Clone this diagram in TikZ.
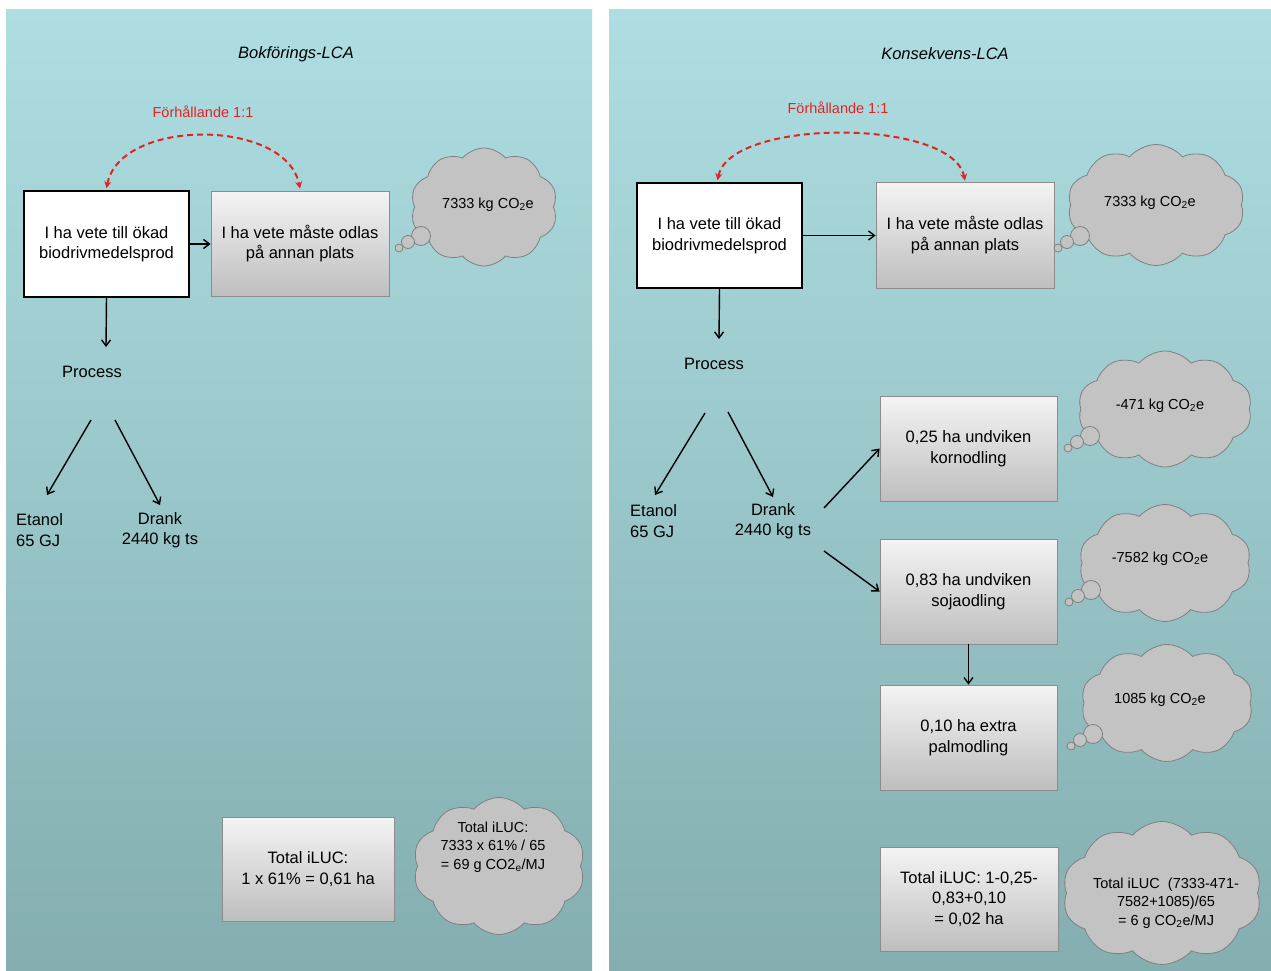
\documentclass[tikz,border=0pt]{standalone}
\usepackage{fontspec}
\setmainfont{Liberation Sans}
\usetikzlibrary{shapes.symbols,arrows.meta,calc}
\definecolor{panelTop}{RGB}{174,222,226}
\definecolor{panelBot}{RGB}{132,174,176}
\definecolor{boxTop}{RGB}{244,244,244}
\definecolor{boxBot}{RGB}{190,190,190}
\definecolor{boxLine}{RGB}{140,140,140}
\definecolor{cloudFill}{RGB}{195,195,195}
\definecolor{cloudLine}{RGB}{128,128,128}
\definecolor{relRed}{RGB}{225,35,35}
\newcommand{\myboxfont}{\fontsize{16.5}{20.5}\selectfont}
\newcommand{\mycloudfont}{\fontsize{14.5}{18.5}\selectfont}
\newcommand{\mytitlefont}{\fontsize{16.5}{19}\selectfont\itshape}
\newcommand{\mytail}[2]{%
  \draw[tailc] (#1,#2) circle[radius=9.5pt];
  \draw[tailc] (#1-13,#2+6) circle[radius=6.5pt];
  \draw[tailc] (#1-22,#2+12) circle[radius=4pt];}
\begin{document}
\begin{tikzpicture}[x=1pt,y=-1pt,
  whitebox/.style={draw=black, line width=1.5pt, fill=white, minimum width=165pt, minimum height=106pt, align=center, font=\myboxfont, inner sep=0pt},
  graybox/.style={draw=boxLine, line width=0.8pt, top color=boxTop, bottom color=boxBot, minimum width=178pt, minimum height=105pt, align=center, font=\myboxfont, inner sep=0pt},
  cloudbox/.style={cloud, cloud puffs=10, cloud puff arc=100, cloud ignores aspect, draw=cloudLine, line width=0.8pt, fill=cloudFill, inner sep=0pt},
  cloudtext/.style={align=center, font=\mycloudfont, inner sep=0pt},
  tailc/.style={draw=cloudLine, line width=0.8pt, fill=cloudFill},
  lbl/.style={font=\myboxfont, align=center, inner sep=0pt},
  arr/.style={-{Straight Barb[length=6pt,width=9pt]}, line width=1.4pt, black},
  rel/.style={{Stealth[length=7pt,width=7pt]}-{Stealth[length=7pt,width=7pt]}, dash pattern=on 6pt off 4pt, draw=relRed, line width=2pt},
  redtext/.style={text=relRed, font=\fontsize{14.5}{17}\selectfont, inner sep=0pt},
  titletext/.style={font=\mytitlefont, inner sep=0pt}]
\useasboundingbox (0,0) rectangle (1271,971);
\fill[white] (0,0) rectangle (1271,971);
% panels
\shade[top color=panelTop, bottom color=panelBot] (6,10) rectangle (592,971);
\shade[top color=panelTop, bottom color=panelBot] (609,10) rectangle (1271,971);

% ================= LEFT PANEL =================
\node[titletext] (titleL) at (296,54) {Bokförings-LCA};
\node[redtext] (relL) at (203,112) {Förhållande 1:1};
\node[whitebox] (boxA) at (106.5,244) {I ha vete till ökad\\biodrivmedelsprod};
\node[graybox] (boxB) at (300,243.5) {I ha vete måste odlas\\på annan plats};
\draw[arr] (boxA.east) -- (boxA.east -| boxB.west);
\draw[rel] ($(boxA.north)+(0,-2)$) .. controls (120,118) and (286,118) .. ($(boxB.north)+(0,-2)$);
\node[cloudbox, minimum width=147pt, minimum height=118pt] (cL1) at (484,207) {};
\mytail{421}{236}
\node[cloudtext] (tL1) at (488,205) {7333 kg CO\textsubscript{2}e};

\node[lbl] (procL) at (92,372) {Process};
\coordinate (pL0) at (106,347);
\draw[arr] (boxA.south) -- (pL0);
\node[lbl, align=left, anchor=west] (etL) at (16,530) {Etanol\\65 GJ};
\node[lbl] (drL) at (160,530) {Drank\\2440 kg ts};
\coordinate (pL1s) at (91,420);
\coordinate (pL1e) at (47,495);
\coordinate (pL2s) at (115,420);
\coordinate (pL2e) at (160,505);
\draw[arr] (pL1s) -- (pL1e);
\draw[arr] (pL2s) -- (pL2e);

\node[graybox, minimum width=172pt, minimum height=104pt] (totL) at (308,869) {Total iLUC:\\1 x 61\% = 0,61 ha};
\node[cloudbox, minimum width=172pt, minimum height=137pt] (cL2) at (499,866) {};
\node[cloudtext] (tL2) at (493,847) {Total iLUC:\\7333 x 61\% / 65\\= 69 g CO2\textsubscript{e}/MJ};

% ================= RIGHT PANEL =================
\node[titletext] (titleR) at (945,54) {Konsekvens-LCA};
\node[redtext] (relR) at (838,108) {Förhållande 1:1};
\node[whitebox, minimum height=105pt] (boxA2) at (719.5,235.5) {I ha vete till ökad\\biodrivmedelsprod};
\node[graybox, minimum height=106pt] (boxB2) at (965,235) {I ha vete måste odlas\\på annan plats};
\draw[arr] (boxA2.east) -- (boxA2.east -| boxB2.west);
\draw[rel] ($(boxA2.north)+(-2,-2)$) .. controls (730,118) and (952,118) .. ($(boxB2.north)+(0,-1)$);
\node[cloudbox, minimum width=177pt, minimum height=121pt] (cR1) at (1156,205) {};
\mytail{1080}{236}
\node[cloudtext] (tR1) at (1150,203) {7333 kg CO\textsubscript{2}e};

\node[lbl] (procR) at (714,364) {Process};
\coordinate (rA0) at (719,339);
\draw[arr] (boxA2.south) -- (rA0);
\node[lbl, align=left, anchor=west] (etR) at (630,521) {Etanol\\65 GJ};
\node[lbl] (drR) at (773,521) {Drank\\2440 kg ts};
\coordinate (pR1s) at (705,413);
\coordinate (pR1e) at (655,495);
\coordinate (pR2s) at (728,412);
\coordinate (pR2e) at (773,497);
\draw[arr] (pR1s) -- (pR1e);
\draw[arr] (pR2s) -- (pR2e);

\node[graybox, minimum width=177pt] (boxC) at (968.5,448.5) {0,25 ha undviken\\kornodling};
\node[graybox, minimum width=177pt] (boxD) at (968.5,591.5) {0,83 ha undviken\\sojaodling};
\node[graybox, minimum width=177pt] (boxE) at (968.5,737.5) {0,10 ha extra\\palmodling};
\coordinate (d1) at (824,508);
\coordinate (d2) at (824,551);
\draw[arr] (d1) -- (boxC.west);
\draw[arr] (d2) -- (boxD.west);
\draw[arr] (boxD.south) -- (boxE.north);

\node[cloudbox, minimum width=174pt, minimum height=116pt] (cR2) at (1165,409) {};
\mytail{1090}{436}
\node[cloudtext] (tR2) at (1160,406) {-471 kg CO\textsubscript{2}e};
\node[cloudbox, minimum width=172pt, minimum height=117pt] (cR3) at (1165,563) {};
\mytail{1091}{590}
\node[cloudtext] (tR3) at (1160,559) {-7582 kg CO\textsubscript{2}e};
\node[cloudbox, minimum width=172pt, minimum height=117pt] (cR4) at (1167,703) {};
\mytail{1093}{734}
\node[cloudtext] (tR4) at (1160,700) {1085 kg CO\textsubscript{2}e};

\node[graybox, minimum width=178pt, minimum height=104pt] (totR) at (969,899) {Total iLUC: 1-0,25-\\0,83+0,10\\= 0,02 ha};
\node[cloudbox, minimum width=199pt, minimum height=143pt] (cR5) at (1162,893) {};
\node[cloudtext] (tR5) at (1166,903) {Total iLUC\ \ (7333-471-\\7582+1085)/65\\= 6 g CO\textsubscript{2}e/MJ};
\end{tikzpicture}
\end{document}
